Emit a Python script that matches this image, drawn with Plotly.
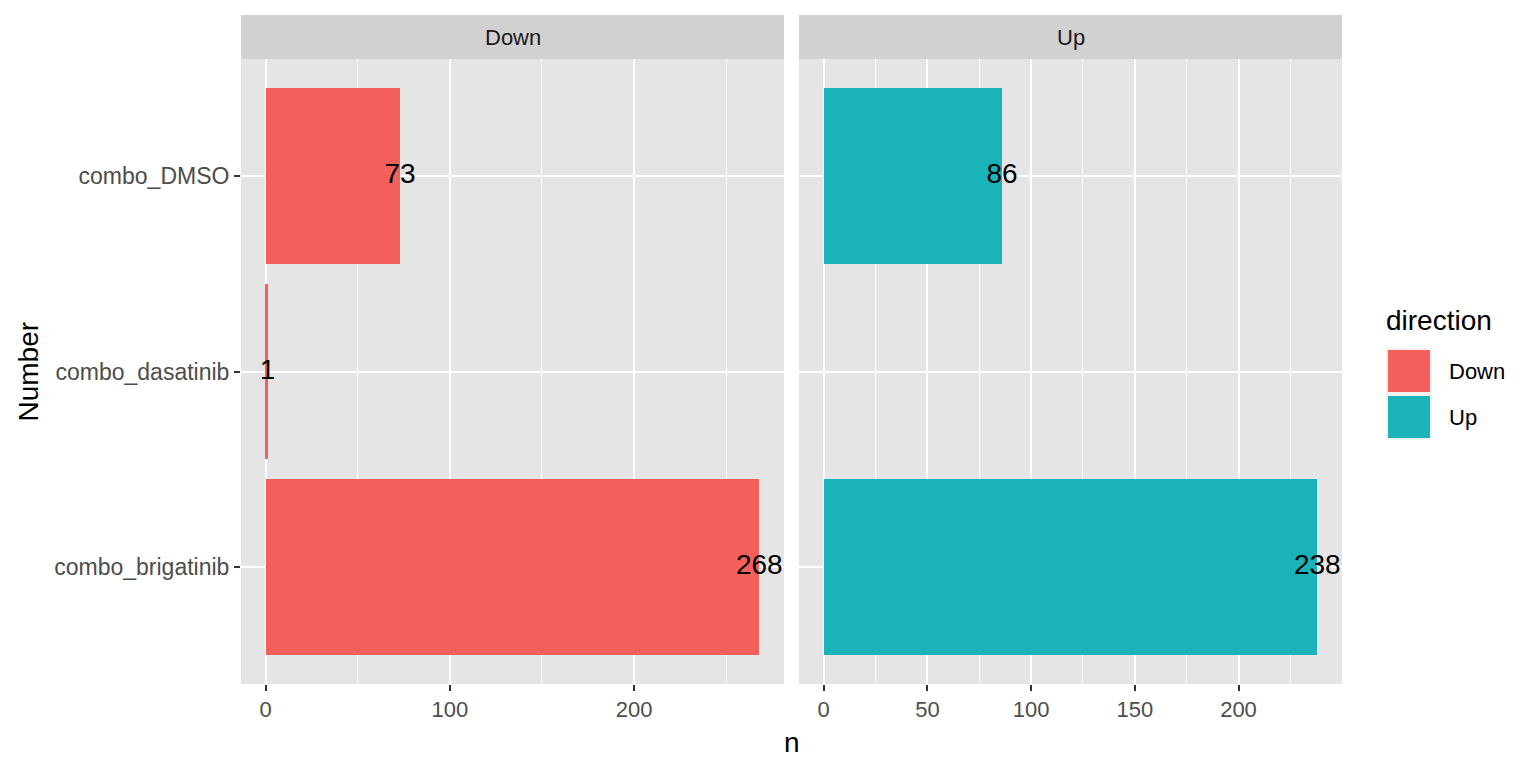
import plotly.graph_objects as go

categories = ["combo_brigatinib", "combo_dasatinib", "combo_DMSO"]
down_cats = ["combo_brigatinib", "combo_dasatinib", "combo_DMSO"]
down_vals = [268, 1, 73]
up_cats = ["combo_brigatinib", "combo_DMSO"]
up_vals = [238, 86]
facets = ["Down", "Up"]
down_ticks = [0, 100, 200]
down_minor = [50, 150, 250]
up_ticks = [0, 50, 100, 150, 200]
up_minor = [25, 75, 125, 175, 225]

RED = "#F3605B"
TEAL = "#19B3B9"
FONT = "Liberation Sans, Arial, sans-serif"
W, H = 1536, 768
SMALL = 22
BIG = 28

def px(x):
    return x / W

def py(y):
    return 1 - y / H

fig = go.Figure()
fig.add_trace(go.Bar(y=down_cats, x=down_vals, orientation="h", width=0.9,
                     marker=dict(color=RED, line=dict(width=0)), name="Down",
                     xaxis="x", yaxis="y", showlegend=False))
fig.add_trace(go.Bar(y=up_cats, x=up_vals, orientation="h", width=0.9,
                     marker=dict(color=TEAL, line=dict(width=0)), name="Up",
                     xaxis="x2", yaxis="y2", showlegend=False))
fig.add_trace(go.Scatter(y=down_cats, x=down_vals, mode="text",
                         text=[str(v) for v in down_vals], textposition="middle center",
                         textfont=dict(size=BIG, color="black", family=FONT),
                         xaxis="x", yaxis="y", showlegend=False, hoverinfo="skip", cliponaxis=False))
fig.add_trace(go.Scatter(y=up_cats, x=up_vals, mode="text",
                         text=[str(v) for v in up_vals], textposition="middle center",
                         textfont=dict(size=BIG, color="black", family=FONT),
                         xaxis="x2", yaxis="y2", showlegend=False, hoverinfo="skip", cliponaxis=False))

x0L, x1L = 241, 784
x0R, x1R = 799, 1342
yT, yB = 59, 684
sT = 15

def xax(dom, rng, ticks, minor):
    return dict(domain=[px(dom[0]), px(dom[1])], range=rng, tickvals=ticks,
                showgrid=True, gridcolor="white", gridwidth=2, zeroline=False,
                ticks="outside", ticklen=6, tickwidth=2, tickcolor="#333333",
                tickfont=dict(size=SMALL, color="#4D4D4D", family=FONT),
                minor=dict(tickvals=minor, showgrid=True, gridcolor="white", gridwidth=1, ticks=""),
                showline=False, fixedrange=True)

fig.update_layout(
    width=W, height=H,
    margin=dict(l=0, r=0, t=0, b=0),
    paper_bgcolor="white",
    plot_bgcolor="#E5E5E5",
    bargap=0,
    xaxis=xax((x0L, x1L), [-13.4, 281.4], down_ticks, down_minor),
    xaxis2=dict(xax((x0R, x1R), [-11.9, 249.9], up_ticks, up_minor), anchor="y2"),
    yaxis=dict(domain=[py(yB), py(yT)], type="category", categoryorder="array",
               categoryarray=categories, range=[-0.6, 2.6],
               showgrid=True, gridcolor="white", gridwidth=2, zeroline=False,
               ticks="outside", ticklen=6, tickwidth=2, tickcolor="#333333",
               tickfont=dict(size=23, color="#4D4D4D", family=FONT), fixedrange=True),
    yaxis2=dict(domain=[py(yB), py(yT)], type="category", categoryorder="array",
                categoryarray=categories, range=[-0.6, 2.6], anchor="x2", matches="y",
                showgrid=True, gridcolor="white", gridwidth=2, zeroline=False,
                showticklabels=False, ticks="", fixedrange=True),
    showlegend=False,
)

shapes = []
annotations = []
# facet strips
for (a, b), lab in zip([(x0L, x1L), (x0R, x1R)], facets):
    shapes.append(dict(type="rect", xref="paper", yref="paper", x0=px(a), x1=px(b),
                       y0=py(yT), y1=py(sT), fillcolor="#D1D1D1", line=dict(width=0), layer="below"))
    annotations.append(dict(x=px((a + b) / 2), y=py((sT + yT) / 2), xref="paper", yref="paper",
                            text=lab, showarrow=False, xanchor="center", yanchor="middle",
                            font=dict(size=SMALL, color="#1A1A1A", family=FONT)))

# axis titles
annotations.append(dict(x=px((x0L + x1R) / 2), y=py(742), xref="paper", yref="paper", text="n",
                        showarrow=False, xanchor="center", yanchor="middle",
                        font=dict(size=BIG, color="black", family=FONT)))
annotations.append(dict(x=px(28), y=py((yT + yB) / 2), xref="paper", yref="paper", text="Number",
                        showarrow=False, textangle=-90, xanchor="center", yanchor="middle",
                        font=dict(size=BIG, color="black", family=FONT)))

# legend
annotations.append(dict(x=px(1384), y=py(320), xref="paper", yref="paper", text="direction",
                        showarrow=False, xanchor="left", yanchor="middle",
                        font=dict(size=BIG, color="black", family=FONT)))
for i, (lab, col) in enumerate(zip(facets, [RED, TEAL])):
    top = 348 + i * 46
    shapes.append(dict(type="rect", xref="paper", yref="paper", x0=px(1386), x1=px(1432),
                       y0=py(top + 46), y1=py(top), fillcolor="#F2F2F2", line=dict(width=0)))
    shapes.append(dict(type="rect", xref="paper", yref="paper", x0=px(1388), x1=px(1430),
                       y0=py(top + 44), y1=py(top + 2), fillcolor=col, line=dict(width=0)))
    annotations.append(dict(x=px(1447), y=py(top + 23), xref="paper", yref="paper", text=lab,
                            showarrow=False, xanchor="left", yanchor="middle",
                            font=dict(size=SMALL, color="black", family=FONT)))

fig.update_layout(shapes=shapes, annotations=annotations)
fig.write_html("out.html", config={"displayModeBar": False},
               post_script="document.body.style.margin='0px';")
